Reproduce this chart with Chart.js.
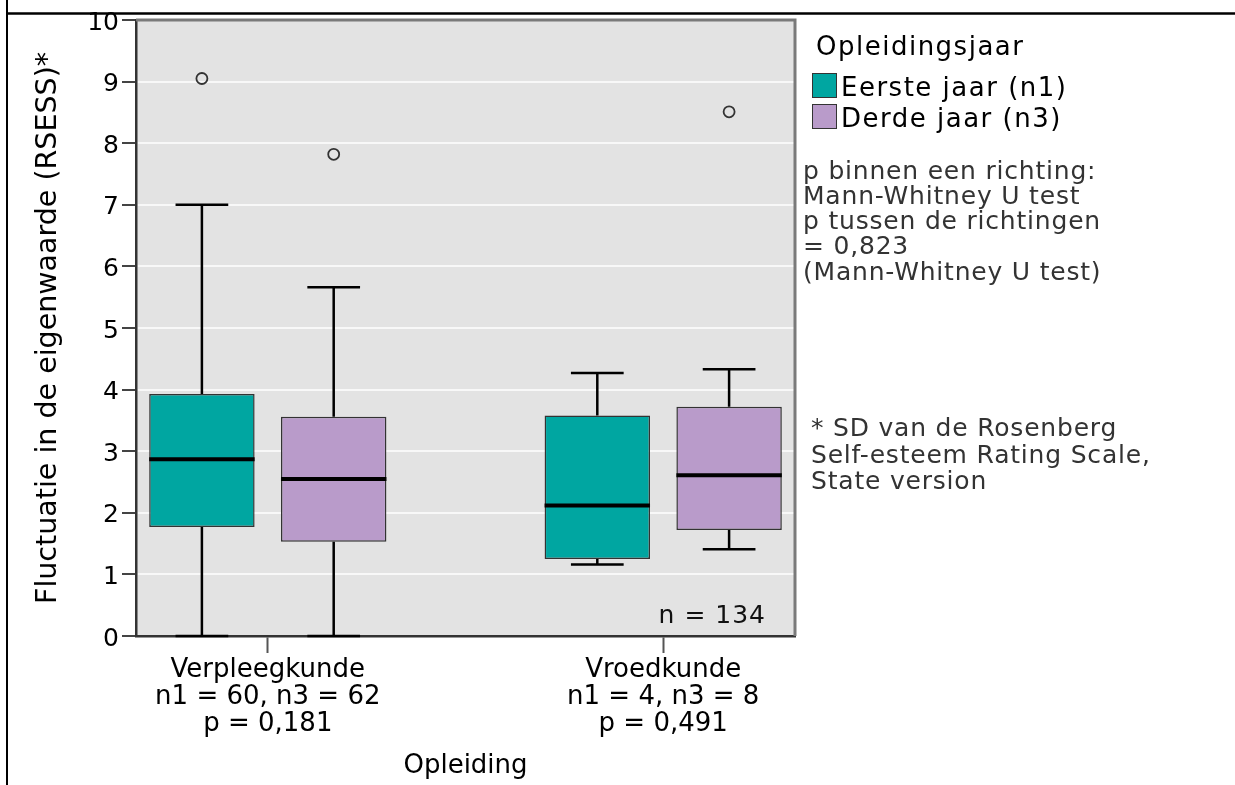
<!DOCTYPE html>
<html>
<head>
<meta charset="utf-8">
<script src="https://cdn.jsdelivr.net/npm/chart.js@4.4.1/dist/chart.umd.min.js"></script>
<style>
  html, body { margin: 0; padding: 0; background: #fff; }
  #wrap { width: 1235px; height: 785px; position: relative; }
</style>
</head>
<body>
<div id="wrap"><canvas id="c" width="1235" height="785"></canvas></div>
<script>
// ---- data ----
const categories = ['Verpleegkunde', 'Vroedkunde'];
const groupSizes = ['n1 = 60, n3 = 62', 'n1 = 4, n3 = 8'];
const pValues = ['p = 0,181', 'p = 0,491'];
const seriesLabels = ['Eerste jaar (n1)', 'Derde jaar (n3)'];

// Eerste jaar (n1): five-number summary per opleiding
const eersteMin      = [0.00, 1.16];
const eersteQ1       = [1.77, 1.25];
const eersteMedian   = [2.87, 2.12];
const eersteQ3       = [3.93, 3.58];
const eersteMax      = [7.00, 4.27];
const eersteOutliers = [[9.05], []];

// Derde jaar (n3)
const derdeMin      = [0.00, 1.41];
const derdeQ1       = [1.53, 1.72];
const derdeMedian   = [2.55, 2.61];
const derdeQ3       = [3.56, 3.72];
const derdeMax      = [5.66, 4.33];
const derdeOutliers = [[7.82], [8.51]];

const yTicks = [0, 1, 2, 3, 4, 5, 6, 7, 8, 9, 10];

const legendTitle = 'Opleidingsjaar';
const testNotes = ['p binnen een richting:', 'Mann-Whitney U test', 'p tussen de richtingen', '= 0,823', '(Mann-Whitney U test)'];
const footNotes = ['* SD van de Rosenberg', 'Self-esteem Rating Scale,', 'State version'];
const totalN = 'n = 134';

// ---- layout helpers ----
const FONT = '"DejaVu Sans", Verdana, sans-serif';
const catPos = i => 1 + 3 * i;          // category centres on the linear x axis
const seriesShift = [-0.5, 0.5];        // side-by-side boxes within a category
const BOX_HALF = 0.4;
const CAP_HALF = 0.2;

const series = [
  { label: seriesLabels[0], color: '#00A6A1', min: eersteMin, q1: eersteQ1, med: eersteMedian, q3: eersteQ3, max: eersteMax, out: eersteOutliers },
  { label: seriesLabels[1], color: '#B99BCA', min: derdeMin,  q1: derdeQ1,  med: derdeMedian,  q3: derdeQ3,  max: derdeMax,  out: derdeOutliers }
];

const datasets = [];
series.forEach((s, si) => {
  const xs = categories.map((c, ci) => catPos(ci) + seriesShift[si]);
  const medPts = [], whiskPts = [], outPts = [];
  xs.forEach((x, ci) => {
    medPts.push({ x: x - BOX_HALF, y: s.med[ci] }, { x: x + BOX_HALF, y: s.med[ci] }, { x, y: null });
    whiskPts.push(
      { x, y: s.q3[ci] }, { x, y: s.max[ci] }, { x, y: null },
      { x: x - CAP_HALF, y: s.max[ci] }, { x: x + CAP_HALF, y: s.max[ci] }, { x, y: null },
      { x, y: s.q1[ci] }, { x, y: s.min[ci] }, { x, y: null },
      { x: x - CAP_HALF, y: s.min[ci] }, { x: x + CAP_HALF, y: s.min[ci] }, { x, y: null }
    );
    s.out[ci].forEach(v => outPts.push({ x, y: v }));
  });
  datasets.push({
    type: 'line', label: s.label + ' mediaan', data: medPts, order: 0,
    borderColor: '#000', borderWidth: 4, pointRadius: 0, spanGaps: false, clip: false, borderCapStyle: 'butt'
  });
  datasets.push({
    type: 'scatter', label: s.label + ' uitschieters', data: outPts, order: 1,
    pointStyle: 'circle', pointRadius: 5.5, borderColor: '#333', backgroundColor: 'rgba(0,0,0,0)', borderWidth: 1.8, clip: false
  });
  datasets.push({
    type: 'line', label: s.label + ' whiskers', data: whiskPts, order: 2,
    borderColor: '#000', borderWidth: 2.5, pointRadius: 0, spanGaps: false, clip: false, borderCapStyle: 'butt'
  });
  datasets.push({
    type: 'bar', label: s.label, data: xs.map((x, ci) => ({ x, y: [s.q1[ci], s.q3[ci]] })), order: 3,
    backgroundColor: s.color, borderColor: '#333', borderWidth: 1.5, borderSkipped: false,
    grouped: false, barPercentage: 0.8, categoryPercentage: 1
  });
});

// ---- background, frame, legend and notes ----
const decorations = {
  id: 'decorations',
  beforeDraw(chart) {
    const { ctx, chartArea: a } = chart;
    ctx.save();
    ctx.fillStyle = '#E3E3E3';
    ctx.fillRect(a.left, a.top, a.right - a.left, a.bottom - a.top);
    ctx.restore();
  },
  afterDatasetsDraw(chart) {
    const { ctx, chartArea: a } = chart;
    ctx.save();
    ctx.strokeStyle = '#7a7a7a';
    ctx.lineWidth = 3;
    ctx.beginPath();
    ctx.moveTo(a.left, a.top);
    ctx.lineTo(a.right, a.top);
    ctx.lineTo(a.right, a.bottom);
    ctx.stroke();
    ctx.restore();
  },
  afterDraw(chart) {
    const { ctx, chartArea: a } = chart;
    ctx.save();
    // page frame
    ctx.strokeStyle = '#000';
    ctx.lineWidth = 2.5;
    ctx.beginPath(); ctx.moveTo(6, 13.5); ctx.lineTo(1235, 13.5); ctx.stroke();
    ctx.lineWidth = 2;
    ctx.beginPath(); ctx.moveTo(7, 0); ctx.lineTo(7, 785); ctx.stroke();

    ctx.textAlign = 'left';
    ctx.textBaseline = 'alphabetic';

    // legend
    ctx.letterSpacing = '1.5px';
    ctx.fillStyle = '#000';
    ctx.font = '26px ' + FONT;
    ctx.fillText(legendTitle, 816, 55);
    series.forEach((s, i) => {
      const top = 73.5 + i * 31;
      ctx.fillStyle = s.color;
      ctx.fillRect(812.5, top, 24, 24);
      ctx.strokeStyle = '#333';
      ctx.lineWidth = 1;
      ctx.strokeRect(812.5, top, 24, 24);
      ctx.fillStyle = '#000';
      ctx.fillText(s.label, 841, top + 22.5);
    });

    // test notes
    ctx.letterSpacing = '0.8px';
    ctx.font = '25px ' + FONT;
    ctx.fillStyle = '#333';
    testNotes.forEach((t, i) => ctx.fillText(t, 803, 178.5 + i * 25.3));
    footNotes.forEach((t, i) => ctx.fillText(t, 811, 436 + i * 26.7));

    // total n inside the plot
    ctx.letterSpacing = '1px';
    ctx.fillStyle = '#111';
    ctx.textAlign = 'right';
    ctx.fillText(totalN, a.right - 29, 623);
    ctx.letterSpacing = '0px';
    ctx.restore();
  }
};

new Chart(document.getElementById('c'), {
  type: 'bar',
  data: { datasets },
  options: {
    responsive: false,
    animation: false,
    devicePixelRatio: 1,
    layout: { padding: { left: 8, top: 20, right: 440, bottom: 0 } },
    plugins: { legend: { display: false }, tooltip: { enabled: false } },
    scales: {
      x: {
        type: 'linear', min: 0, max: 5, offset: false,
        afterBuildTicks: s => { s.ticks = categories.map((c, i) => ({ value: catPos(i) })); },
        afterFit: s => { s.height = 149; },
        ticks: {
          autoSkip: false, maxRotation: 0, minRotation: 0, padding: 4, color: '#000',
          font: { family: FONT, size: 26, lineHeight: 1.03 },
          callback: (v, i) => [categories[i], groupSizes[i], pValues[i]]
        },
        grid: { offset: false, drawOnChartArea: false, drawTicks: true, tickLength: 17, tickColor: '#555', tickWidth: 2 },
        border: { color: '#333', width: 2.5 },
        title: { display: true, text: 'Opleiding', color: '#000', font: { family: FONT, size: 26 }, padding: { top: 0, bottom: 3 } }
      },
      y: {
        type: 'linear', min: 0, max: 10,
        afterBuildTicks: s => { s.ticks = yTicks.map(v => ({ value: v })); },
        afterFit: s => { s.width = 128; },
        ticks: { color: '#000', font: { family: FONT, size: 25 }, padding: 3, labelOffset: 3 },
        grid: {
          color: c => (c.tick && c.tick.value === 0) ? 'rgba(0,0,0,0)' : '#f8f8f8',
          lineWidth: 2, tickColor: '#444', tickLength: 14, tickWidth: 2
        },
        border: { color: '#333', width: 2.5 },
        title: { display: true, text: 'Fluctuatie in de eigenwaarde (RSESS)*', color: '#000', font: { family: FONT, size: 28.5 }, padding: { top: 23, bottom: 0 } }
      }
    }
  },
  plugins: [decorations]
});
</script>
</body>
</html>
